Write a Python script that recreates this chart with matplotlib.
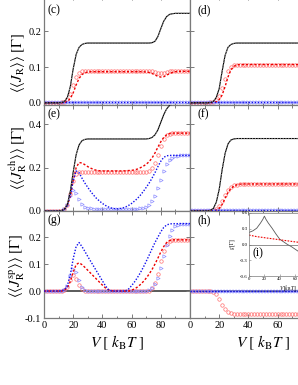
import numpy as np
import matplotlib.pyplot as plt
from matplotlib.ticker import MultipleLocator, FixedLocator

plt.rcParams['font.family'] = ['Liberation Serif', 'DejaVu Serif']
plt.rcParams['mathtext.fontset'] = 'stix'
plt.rcParams['axes.unicode_minus'] = False

# bias voltage grid (k_B T), every 2 units
V = np.arange(0, 101, 2)

# ---- panel (c): <<J_R>> ----
c_black = [0, 0, 0, 0, 0, 0, 0.001, 0.004, 0.015, 0.045,
           0.095, 0.135, 0.155, 0.163, 0.166, 0.167, 0.167, 0.167, 0.167, 0.167,
           0.167, 0.167, 0.167, 0.167, 0.167, 0.167, 0.167, 0.167, 0.167, 0.167,
           0.167, 0.167, 0.167, 0.167, 0.167, 0.167, 0.167, 0.168, 0.172, 0.185,
           0.207, 0.228, 0.241, 0.247, 0.249, 0.25, 0.25, 0.25, 0.25, 0.25,
           0.25]
c_red_o = [0, 0, 0, 0, 0, 0, 0.001, 0.003, 0.01, 0.025,
           0.05, 0.072, 0.084, 0.088, 0.09, 0.09, 0.09, 0.09, 0.09, 0.09,
           0.09, 0.09, 0.09, 0.09, 0.09, 0.09, 0.09, 0.09, 0.09, 0.09,
           0.09, 0.09, 0.09, 0.09, 0.09, 0.09, 0.089, 0.088, 0.086, 0.084,
           0.083, 0.084, 0.086, 0.088, 0.089, 0.09, 0.09, 0.09, 0.09, 0.09,
           0.09]
c_red_d = [0, 0, 0, 0, 0, 0, 0, 0.001, 0.004, 0.012,
           0.028, 0.05, 0.068, 0.079, 0.084, 0.086, 0.087, 0.087, 0.087, 0.087,
           0.087, 0.087, 0.087, 0.087, 0.087, 0.087, 0.087, 0.087, 0.087, 0.087,
           0.087, 0.087, 0.087, 0.087, 0.087, 0.086, 0.085, 0.082, 0.078, 0.074,
           0.072, 0.073, 0.077, 0.082, 0.085, 0.087, 0.088, 0.088, 0.088, 0.088,
           0.088]
c_blue_t = [0.003] * 51
c_blue_d = [0.002] * 51

# ---- panel (d) ----
d_black = [0, 0, 0, 0, 0, 0, 0, 0.001, 0.004, 0.015,
           0.04, 0.088, 0.132, 0.155, 0.163, 0.166, 0.167, 0.167, 0.167, 0.167,
           0.167, 0.167, 0.167, 0.167, 0.167, 0.167, 0.167, 0.167, 0.167, 0.167,
           0.167, 0.167, 0.167, 0.167, 0.167, 0.167, 0.167, 0.167, 0.167, 0.167,
           0.167, 0.167, 0.167, 0.167, 0.167, 0.167, 0.167, 0.167, 0.167, 0.167,
           0.167]
d_red_o = [0, 0, 0, 0, 0, 0, 0, 0.001, 0.003, 0.008,
           0.02, 0.042, 0.068, 0.088, 0.1, 0.105, 0.107, 0.107, 0.107, 0.107,
           0.107, 0.107, 0.107, 0.107, 0.107, 0.107, 0.107, 0.107, 0.107, 0.107,
           0.107, 0.107, 0.107, 0.107, 0.107, 0.107, 0.107, 0.107, 0.107, 0.107,
           0.107, 0.107, 0.107, 0.107, 0.107, 0.107, 0.107, 0.107, 0.107, 0.107,
           0.107]
d_red_d = [0, 0, 0, 0, 0, 0, 0, 0, 0.001, 0.003,
           0.009, 0.022, 0.045, 0.072, 0.092, 0.102, 0.106, 0.107, 0.107, 0.107,
           0.107, 0.107, 0.107, 0.107, 0.107, 0.107, 0.107, 0.107, 0.107, 0.107,
           0.107, 0.107, 0.107, 0.107, 0.107, 0.107, 0.107, 0.107, 0.107, 0.107,
           0.107, 0.107, 0.107, 0.107, 0.107, 0.107, 0.107, 0.107, 0.107, 0.107,
           0.107]
d_blue = [0.003] * 51

# ---- panel (e): <<J_R^ch>> ----
e_black = [0, 0, 0, 0, 0, 0, 0.002, 0.008, 0.03, 0.09,
           0.18, 0.26, 0.305, 0.325, 0.331, 0.333, 0.333, 0.333, 0.333, 0.333,
           0.333, 0.333, 0.333, 0.333, 0.333, 0.333, 0.333, 0.333, 0.333, 0.333,
           0.333, 0.333, 0.333, 0.333, 0.333, 0.333, 0.335, 0.34, 0.352, 0.375,
           0.41, 0.445, 0.472, 0.488, 0.495, 0.498, 0.5, 0.5, 0.5, 0.5,
           0.5]
e_red_o = [0, 0, 0, 0, 0, 0, 0.002, 0.008, 0.03, 0.08,
           0.14, 0.17, 0.178, 0.18, 0.18, 0.18, 0.18, 0.18, 0.18, 0.18,
           0.18, 0.18, 0.18, 0.18, 0.18, 0.18, 0.18, 0.18, 0.18, 0.18,
           0.18, 0.18, 0.18, 0.18, 0.181, 0.182, 0.186, 0.197, 0.222, 0.26,
           0.3, 0.333, 0.35, 0.357, 0.36, 0.36, 0.36, 0.36, 0.36, 0.36,
           0.36]
e_red_d = [0, 0, 0, 0, 0, 0, 0.002, 0.007, 0.025, 0.07,
           0.14, 0.2, 0.224, 0.222, 0.214, 0.205, 0.198, 0.192, 0.188, 0.186,
           0.185, 0.185, 0.185, 0.185, 0.185, 0.185, 0.185, 0.185, 0.186, 0.187,
           0.188, 0.19, 0.194, 0.2, 0.207, 0.216, 0.228, 0.245, 0.268, 0.295,
           0.32, 0.34, 0.352, 0.358, 0.36, 0.36, 0.36, 0.36, 0.36, 0.36,
           0.36]
e_blue_d = [0, 0, 0, 0, 0, 0, 0.002, 0.007, 0.025, 0.07,
            0.14, 0.185, 0.177, 0.152, 0.129, 0.109, 0.09, 0.073, 0.058, 0.046,
            0.035, 0.026, 0.019, 0.014, 0.011, 0.01, 0.011, 0.014, 0.019, 0.026,
            0.035, 0.046, 0.058, 0.073, 0.09, 0.109, 0.129, 0.152, 0.177, 0.205,
            0.23, 0.248, 0.255, 0.257, 0.257, 0.257, 0.257, 0.257, 0.257, 0.257,
            0.257]
e_blue_t = [0, 0, 0, 0, 0, 0, 0.002, 0.008, 0.03, 0.07,
            0.098, 0.085, 0.055, 0.032, 0.02, 0.014, 0.012, 0.011, 0.01, 0.01,
            0.01, 0.01, 0.01, 0.01, 0.01, 0.01, 0.01, 0.01, 0.01, 0.01,
            0.01, 0.01, 0.011, 0.012, 0.014, 0.018, 0.028, 0.045, 0.07, 0.105,
            0.145, 0.185, 0.215, 0.235, 0.247, 0.253, 0.256, 0.257, 0.257, 0.257,
            0.257]

# ---- panel (f) ----
f_black = [0, 0, 0, 0, 0, 0, 0, 0.003, 0.012, 0.04,
           0.1, 0.19, 0.265, 0.31, 0.328, 0.333, 0.335, 0.335, 0.335, 0.335,
           0.335, 0.335, 0.335, 0.335, 0.335, 0.335, 0.335, 0.335, 0.335, 0.335,
           0.335, 0.335, 0.335, 0.335, 0.335, 0.335, 0.335, 0.335, 0.335, 0.335,
           0.335, 0.335, 0.335, 0.335, 0.335, 0.335, 0.335, 0.335, 0.335, 0.335,
           0.335]
f_red_o = [0, 0, 0, 0, 0, 0, 0, 0.001, 0.003, 0.009,
           0.022, 0.045, 0.072, 0.095, 0.11, 0.118, 0.122, 0.124, 0.125, 0.125,
           0.125, 0.125, 0.125, 0.125, 0.125, 0.125, 0.125, 0.125, 0.125, 0.125,
           0.125, 0.125, 0.125, 0.125, 0.125, 0.125, 0.125, 0.125, 0.125, 0.125,
           0.125, 0.125, 0.125, 0.125, 0.125, 0.125, 0.125, 0.125, 0.125, 0.125,
           0.125]
f_red_d = [0, 0, 0, 0, 0, 0, 0, 0, 0.001, 0.004,
           0.012, 0.03, 0.058, 0.085, 0.104, 0.115, 0.121, 0.124, 0.125, 0.125,
           0.125, 0.125, 0.125, 0.125, 0.125, 0.125, 0.125, 0.125, 0.125, 0.125,
           0.125, 0.125, 0.125, 0.125, 0.125, 0.125, 0.125, 0.125, 0.125, 0.125,
           0.125, 0.125, 0.125, 0.125, 0.125, 0.125, 0.125, 0.125, 0.125, 0.125,
           0.125]
f_blue = [0.003] * 51

# ---- panel (g): <<J_R^sp>> ----
g_black = [0.0] * 51
g_blue_d = [0, 0, 0, 0, 0, 0, 0.001, 0.005, 0.02, 0.06,
            0.12, 0.165, 0.18, 0.165, 0.147, 0.128, 0.11, 0.092, 0.074, 0.056,
            0.038, 0.02, 0.006, 0.001, 0, 0, 0, 0, 0.001, 0.008,
            0.02, 0.034, 0.05, 0.068, 0.088, 0.11, 0.133, 0.157, 0.18, 0.2,
            0.22, 0.236, 0.245, 0.249, 0.25, 0.25, 0.25, 0.25, 0.25, 0.25,
            0.25]
g_red_d = [0, 0, 0, 0, 0, 0, 0, 0.003, 0.012, 0.035,
           0.07, 0.098, 0.105, 0.098, 0.088, 0.077, 0.066, 0.055, 0.044, 0.033,
           0.022, 0.012, 0.005, 0.001, 0, 0, 0, 0, 0, 0,
           0.003, 0.008, 0.015, 0.024, 0.035, 0.048, 0.063, 0.08, 0.1, 0.122,
           0.145, 0.165, 0.18, 0.187, 0.19, 0.19, 0.19, 0.19, 0.19, 0.19,
           0.19]
g_blue_t = [0, 0, 0, 0, 0, 0, 0, 0.004, 0.02, 0.055,
            0.083, 0.07, 0.04, 0.015, 0.004, 0.001, 0, 0, 0, 0,
            0, 0, 0, 0, 0, 0, 0, 0, 0, 0,
            0, 0, 0, 0, 0, 0, 0.003, 0.01, 0.025, 0.05,
            0.085, 0.13, 0.17, 0.205, 0.228, 0.24, 0.245, 0.247, 0.247, 0.247,
            0.247]
g_red_o = [0, 0, 0, 0, 0, 0, 0, 0.003, 0.015, 0.04,
           0.058, 0.045, 0.022, 0.007, 0.001, 0, 0, 0, 0, 0,
           0, 0, 0, 0, 0, 0, 0, 0, 0, 0,
           0, 0, 0, 0, 0, 0, 0.002, 0.01, 0.03, 0.065,
           0.11, 0.15, 0.175, 0.186, 0.19, 0.19, 0.19, 0.19, 0.19, 0.19,
           0.19]

# ---- panel (h) ----
h_black = [0.0] * 51
h_red_o = [0, 0, 0, 0, 0, 0, 0, 0, -0.003, -0.012,
           -0.03, -0.05, -0.067, -0.078, -0.083, -0.085, -0.085, -0.085, -0.085, -0.085,
           -0.085, -0.085, -0.085, -0.085, -0.085, -0.085, -0.085, -0.085, -0.085, -0.085,
           -0.085, -0.085, -0.085, -0.085, -0.085, -0.085, -0.085, -0.085, -0.085, -0.085,
           -0.085, -0.085, -0.085, -0.085, -0.085, -0.085, -0.085, -0.085, -0.085, -0.085,
           -0.085]
h_blue_t = [0.001] * 51
h_blue_d = [-0.001] * 51

# ---- inset (i) ----
Vi = [0, 5, 10, 15, 18, 20, 22, 25, 30, 35, 40, 45, 50, 55, 60, 65, 70, 80, 90, 100]
i_black = [0.23, 0.26, 0.31, 0.41, 0.48, 0.54, 0.48, 0.41, 0.31, 0.2,
           0.1, 0.05, 0.0, -0.04, -0.09, -0.14, -0.18, -0.27, -0.36, -0.45]
i_red = [0.18, 0.165, 0.15, 0.14, 0.135, 0.13, 0.125, 0.12, 0.11, 0.1,
         0.09, 0.08, 0.07, 0.06, 0.05, 0.042, 0.035, 0.02, 0.01, 0.0]

SPINE = '#7a7a7a'
RED_O = '#ff7070'
BLUE_T = '#8c8cff'


def style(ax, ylim, yticks, xlabels):
    ax.set_xlim(0, 100)
    ax.set_ylim(*ylim)
    ax.xaxis.set_major_locator(FixedLocator([0, 20, 40, 60, 80]))
    ax.xaxis.set_minor_locator(MultipleLocator(10))
    ax.yaxis.set_major_locator(FixedLocator(yticks))
    ax.tick_params(which='both', direction='in', top=True, right=True,
                   color=SPINE, width=0.7, labelsize=7.5, pad=2)
    ax.tick_params(which='major', length=3)
    ax.tick_params(which='minor', length=1.8)
    for s in ax.spines.values():
        s.set_color(SPINE)
        s.set_linewidth(0.9)
    if not xlabels:
        ax.tick_params(labelbottom=False)


def curves(ax, black=None, red_o=None, red_d=None, blue_t=None, blue_d=None):
    if red_o is not None:
        ax.plot(V, red_o, ls='none', marker='o', ms=2.5, mfc='none', mec=RED_O, mew=0.5, zorder=2)
    if blue_t is not None:
        ax.plot(V, blue_t, ls='none', marker='>', ms=2.4, mfc='none', mec=BLUE_T, mew=0.5, zorder=2)
    if red_d is not None:
        ax.plot(V, red_d, color='#ee0000', ls=(0, (1.6, 1.4)), lw=1.0, zorder=3)
    if blue_d is not None:
        ax.plot(V, blue_d, color='#1010ee', ls=(0, (1, 1.2)), lw=1.0, zorder=3)
    if black is not None:
        ax.plot(V, black, color='black', lw=0.8, zorder=4)
        ax.plot(V, black, color='0.55', ls=(0, (1, 1.5)), lw=0.8, zorder=4)


fig = plt.figure(figsize=(2.98, 3.85), dpi=100)

xl, xr, w = 44 / 298, 190 / 298, 146 / 298
rows = [(280 / 385, 105 / 385 + 0.01), (174 / 385, 106 / 385), (67 / 385, 107 / 385)]

ax_c = fig.add_axes([xl, rows[0][0], w, rows[0][1]])
ax_d = fig.add_axes([xr, rows[0][0], w, rows[0][1]])
ax_e = fig.add_axes([xl, rows[1][0], w, rows[1][1]])
ax_f = fig.add_axes([xr, rows[1][0], w, rows[1][1]])
ax_g = fig.add_axes([xl, rows[2][0], w, rows[2][1]])
ax_h = fig.add_axes([xr, rows[2][0], w, rows[2][1]])

ylim_c = (-0.006, 0.298)
ylim_e = (0.0, 0.49)
ylim_g = (-0.1, 0.297)

style(ax_c, ylim_c, [0.0, 0.1, 0.2], False)
style(ax_d, ylim_c, [0.0, 0.1, 0.2], False)
style(ax_e, ylim_e, [0.0, 0.2, 0.4], False)
style(ax_f, ylim_e, [0.0, 0.2, 0.4], False)
style(ax_g, ylim_g, [-0.1, 0.0, 0.1, 0.2], True)
style(ax_h, ylim_g, [-0.1, 0.0, 0.1, 0.2], True)

for ax in (ax_c, ax_e, ax_g):
    ax.yaxis.set_major_formatter(plt.FormatStrFormatter('%.1f'))
for ax in (ax_d, ax_f, ax_h):
    ax.tick_params(labelleft=False)
ax_g.set_xticklabels(['0', '20', '40', '60', '80'])
ax_h.set_xticklabels(['0', '20', '40', '60', ''])

curves(ax_c, c_black, c_red_o, c_red_d, c_blue_t, c_blue_d)
curves(ax_d, d_black, d_red_o, d_red_d, d_blue, d_blue)
curves(ax_e, e_black, e_red_o, e_red_d, e_blue_t, e_blue_d)
curves(ax_f, f_black, f_red_o, f_red_d, f_blue, f_blue)
curves(ax_g, None, g_red_o, g_red_d, g_blue_t, g_blue_d)
ax_g.plot(V, g_black, color='0.3', lw=1.3, zorder=1)
curves(ax_h, None, h_red_o, None, h_blue_t, h_blue_d)
ax_h.plot(V, h_black, color='0.3', lw=1.3, zorder=1)

# panel letters, placed by pixel row from the top of the figure
for x_px, y_px, lab in [(47, 10, '(c)'), (197, 10, '(d)'), (47, 114, '(e)'),
                        (197, 114, '(f)'), (47, 220, '(g)'), (197, 220, '(h)')]:
    fig.text(x_px / 298, 1 - y_px / 385, lab, ha='left', va='center', fontsize=8.5)

for ax in (ax_g, ax_h):
    ax.set_xlabel(r'$V\ [\ k_{\rm B}T\ ]$', fontsize=11, labelpad=3)

fig.text(18 / 298, 1 - 63 / 385, r'$\langle\langle J_{\rm R}\rangle\rangle\ [\Gamma]$',
         rotation=90, ha='center', va='center', fontsize=10.5)
fig.text(18 / 298, 1 - 158 / 385, r'$\langle\langle J_{\rm R}^{\rm ch}\rangle\rangle\ [\Gamma]$',
         rotation=90, ha='center', va='center', fontsize=10.5)
fig.text(18 / 298, 1 - 266 / 385, r'$\langle\langle J_{\rm R}^{\rm sp}\rangle\rangle\ [\Gamma]$',
         rotation=90, ha='center', va='center', fontsize=10.5)

# inset (i)
ax_i = fig.add_axes([249 / 298, 109 / 385, 77 / 298, 63 / 385])
ax_i.plot(Vi, i_black, color='0.35', lw=0.6)
ax_i.plot(Vi, i_red, color='#ee0000', ls=(0, (1.5, 1.2)), lw=0.8)
ax_i.axhline(0, color='0.4', lw=0.5)
ax_i.set_xlim(0, 100)
ax_i.set_ylim(-0.6, 0.6)
ax_i.set_xticks([0, 20, 40, 60, 80])
ax_i.set_yticks([-0.6, -0.3, 0.0, 0.3, 0.6])
ax_i.yaxis.set_major_formatter(plt.FormatStrFormatter('%.1f'))
ax_i.tick_params(direction='in', length=1.5, width=0.4, labelsize=3.5, pad=1, color=SPINE)
ax_i.set_xticklabels(['0', '20', '40', '60', ''])
for s in ax_i.spines.values():
    s.set_color(SPINE)
    s.set_linewidth(0.5)
ax_i.text(0.04, 0.36, '(i)', transform=ax_i.transAxes, fontsize=8.5, ha='left', va='center')
ax_i.text(0.62, -0.13, r'$V\,[k_{\rm B}T]$', transform=ax_i.transAxes, fontsize=4,
          ha='right', va='top')
ax_i.set_ylabel(r'$g\,[\Gamma]$', fontsize=4, labelpad=1)

fig.savefig('out.png', dpi=100)
